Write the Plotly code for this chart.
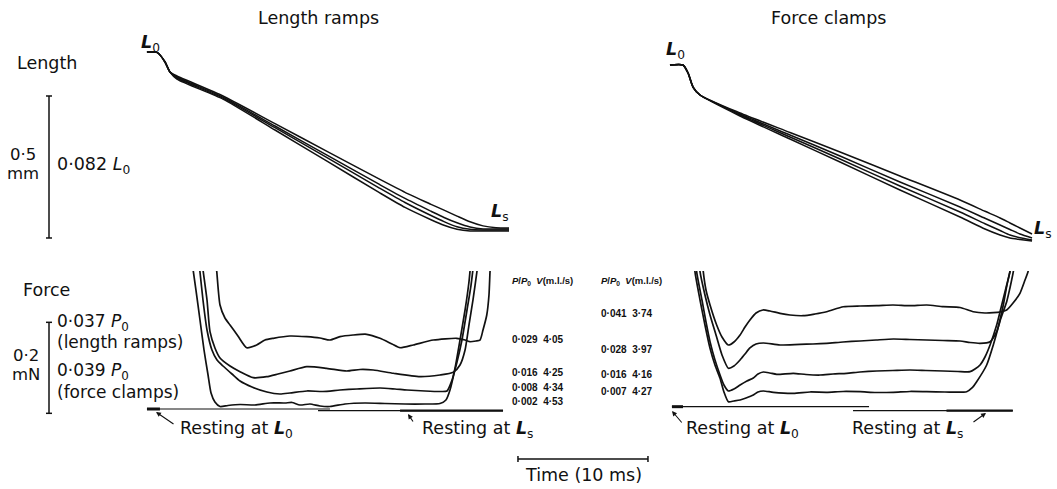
import plotly.graph_objects as go

W, H = 1057, 489

# ---------------- DATA ----------------
# Length traces, length ramps (time in ms, length change in mm from L0)
t_len_ramp = [0.15, 0.77, 1.0, 1.54, 1.92, 2.46, 6, 10, 14, 18, 20, 22, 23, 24, 25, 26, 27, 28]
len_ramp_405 = [0, 0, -0.0035, -0.0352, -0.0704, -0.0845, -0.1549, -0.2525, -0.3496, -0.4468, -0.4940,
                -0.5363, -0.5570, -0.5778, -0.5979, -0.6123, -0.6187, -0.6197]
len_ramp_425 = [0, 0, -0.0035, -0.0352, -0.0704, -0.0880, -0.1588, -0.2606, -0.3630, -0.4655, -0.5155,
                -0.5606, -0.5827, -0.6014, -0.6162, -0.6232, -0.6232, -0.6232]
len_ramp_434 = [0, 0, -0.0035, -0.0352, -0.0704, -0.0915, -0.1623, -0.2665, -0.3722, -0.4782, -0.5299,
                -0.5757, -0.5972, -0.6155, -0.6243, -0.6268, -0.6268, -0.6268]
len_ramp_453 = [0, 0, -0.0035, -0.0352, -0.0704, -0.0951, -0.1658, -0.2746, -0.3845, -0.4944, -0.5472,
                -0.5905, -0.6102, -0.6243, -0.6303, -0.6303, -0.6303, -0.6303]

# Length traces, force clamps
t_len_clamp = [0.23, 1.23, 1.62, 2.0, 2.54, 5.62, 9.46, 13.31, 17.92, 22.54, 24.46, 25.62, 26.38, 27.15, 28.08]
len_clamp_041 = [0, 0, -0.0282, -0.0775, -0.1056, -0.1690, -0.2377, -0.3063, -0.3908, -0.4754, -0.5151,
                 -0.5387, -0.5563, -0.5739, -0.5951]
len_clamp_028 = [0, 0, -0.0282, -0.0775, -0.1056, -0.1725, -0.2465, -0.3204, -0.4120, -0.5000, -0.5398,
                 -0.5634, -0.5792, -0.5951, -0.6092]
len_clamp_016 = [0, 0, -0.0282, -0.0775, -0.1056, -0.1761, -0.2535, -0.3310, -0.4261, -0.5176, -0.5588,
                 -0.5827, -0.5986, -0.6081, -0.6162]
len_clamp_007 = [0, 0, -0.0282, -0.0775, -0.1056, -0.1796, -0.2606, -0.3415, -0.4401, -0.5352, -0.5775,
                 -0.5986, -0.6092, -0.6144, -0.6197]

# Force traces, length ramps (time ms, force mN)
t_fr_002 = [3.54, 3.92, 4.23, 4.54, 4.85, 5.08, 5.38, 5.77, 6.38, 7.31, 8.46, 9.62, 10.77, 11.31, 11.92, 12.69,
            13.46, 14.23, 15.38, 16.92, 18.46, 20.0, 21.54, 22.69, 23.15, 23.46, 23.85, 24.23, 24.62, 24.92, 25.08]
f_fr_002 = [0.3385, 0.2615, 0.1956, 0.1297, 0.0747, 0.0352, 0.0154, 0.0055, 0.0077, 0.0099, 0.0088, 0.0132,
            0.0132, 0.0143, 0.0088, 0.0110, 0.0066, 0.0055, 0.0110, 0.0132, 0.0121, 0.0110, 0.0110, 0.0121,
            0.0198, 0.0418, 0.0901, 0.1516, 0.2176, 0.2791, 0.3275]
t_fr_008 = [4.08, 4.23, 4.46, 4.77, 5.15, 5.54, 6.0, 6.69, 7.31, 8.23, 9.38, 10.38, 11.15, 12.46, 13.69, 15.0,
            16.31, 18.08, 19.23, 20.15, 21.54, 22.69, 23.23, 23.62, 24.0, 24.38, 24.77, 25.08, 25.31]
f_fr_008 = [0.3385, 0.3011, 0.2396, 0.1736, 0.1297, 0.1077, 0.0945, 0.0769, 0.0615, 0.0484, 0.0374, 0.0330,
            0.0352, 0.0396, 0.0385, 0.0418, 0.0440, 0.0462, 0.0440, 0.0418, 0.0396, 0.0385, 0.0396, 0.0637,
            0.1033, 0.1516, 0.2176, 0.2725, 0.3275]
t_fr_016 = [4.31, 4.48, 4.77, 5.0, 5.38, 5.77, 6.54, 7.31, 8.33, 9.36, 10.23, 11.15, 12.44, 13.98, 15.52, 16.54,
            17.56, 19.1, 21.15, 22.69, 23.72, 24.23, 24.62, 24.92, 25.23, 25.54, 25.69]
f_fr_016 = [0.3385, 0.3018, 0.2396, 0.1699, 0.1341, 0.1121, 0.0945, 0.0820, 0.0688, 0.0710, 0.0769, 0.0835,
            0.0930, 0.0895, 0.0835, 0.0868, 0.0857, 0.0785, 0.0710, 0.0747, 0.0807, 0.0967, 0.1297, 0.1846,
            0.2396, 0.3033, 0.3385]
t_fr_029 = [5.38, 5.52, 5.77, 6.15, 6.54, 7.15, 7.82, 8.59, 9.23, 9.87, 11.15, 12.44, 13.46, 14.23, 15.0, 16.0,
            17.05, 18.08, 19.0, 19.62, 20.64, 22.18, 23.98, 24.62, 25.0, 25.46, 25.77, 26.0, 26.29, 26.46, 26.54, 26.62]
f_fr_029 = [0.3385, 0.3018, 0.2286, 0.2000, 0.1846, 0.1604, 0.1347, 0.1407, 0.1516, 0.1554, 0.1604, 0.1589,
            0.1560, 0.1516, 0.1589, 0.1626, 0.1642, 0.1554, 0.1429, 0.1347, 0.1407, 0.1516, 0.1554, 0.1516,
            0.1479, 0.1495, 0.1516, 0.1736, 0.2066, 0.2505, 0.3018, 0.3385]

# Force traces, force clamps
t_fc_007 = [2.08, 2.15, 2.54, 2.92, 3.31, 3.69, 4.08, 4.38, 4.72, 5.15, 5.62, 6.08, 6.64, 7.0, 7.41, 8.18, 9.72,
            11.0, 12.28, 13.54, 14.85, 16.08, 17.41, 18.69, 19.98, 21.38, 23.05, 23.46, 23.82, 24.59, 25.1, 25.46,
            25.87, 26.15, 26.38, 26.54]
f_fc_007 = [0.3385, 0.3018, 0.2396, 0.1846, 0.1334, 0.0967, 0.0675, 0.0374, 0.0160, 0.0176, 0.0198, 0.0242,
            0.0308, 0.0374, 0.0396, 0.0367, 0.0345, 0.0374, 0.0367, 0.0385, 0.0380, 0.0363, 0.0367, 0.0385,
            0.0380, 0.0374, 0.0380, 0.0462, 0.0600, 0.0967, 0.1407, 0.1780, 0.2286, 0.2725, 0.3018, 0.3385]
t_fc_016 = [2.23, 2.28, 2.69, 3.0, 3.31, 3.69, 4.08, 4.38, 4.72, 5.15, 5.62, 6.15, 6.64, 7.0, 7.41, 7.92, 8.44,
            9.72, 10.69, 11.77, 12.77, 13.82, 14.85, 16.13, 17.38, 18.69, 19.92, 21.25, 22.38, 23.31, 23.69, 24.08,
            24.46, 24.85, 25.36, 25.69, 26.13, 26.38, 26.54]
f_fc_016 = [0.3385, 0.3018, 0.2396, 0.1912, 0.1479, 0.1077, 0.0747, 0.0527, 0.0396, 0.0440, 0.0527, 0.0615,
            0.0681, 0.0769, 0.0813, 0.0791, 0.0763, 0.0785, 0.0758, 0.0747, 0.0769, 0.0785, 0.0813, 0.0835,
            0.0846, 0.0857, 0.0846, 0.0835, 0.0824, 0.0820, 0.0879, 0.0967, 0.1143, 0.1407, 0.1846, 0.2220,
            0.2725, 0.3018, 0.3319]
t_fc_028 = [2.46, 2.54, 2.92, 3.31, 3.77, 4.23, 4.72, 5.15, 5.62, 6.0, 6.38, 6.85, 7.41, 8.69, 10.23, 11.23,
            12.28, 13.54, 14.85, 16.08, 17.41, 18.69, 19.98, 21.23, 22.54, 23.31, 24.08, 24.85, 25.36, 25.69,
            26.13, 26.38, 26.64, 26.77]
f_fc_028 = [0.3385, 0.3018, 0.2505, 0.2066, 0.1626, 0.1187, 0.0895, 0.0945, 0.1077, 0.1209, 0.1341, 0.1429,
            0.1451, 0.1407, 0.1422, 0.1429, 0.1444, 0.1473, 0.1495, 0.1516, 0.1538, 0.1527, 0.1516, 0.1505,
            0.1495, 0.1462, 0.1444, 0.1479, 0.1699, 0.2000, 0.2358, 0.2659, 0.3018, 0.3275]
t_fc_041 = [2.69, 2.79, 3.0, 3.31, 3.82, 4.23, 4.72, 5.15, 5.62, 6.0, 6.38, 6.85, 7.38, 7.92, 8.69, 9.46, 10.48,
            11.38, 12.28, 13.56, 14.85, 16.13, 17.38, 18.69, 19.98, 21.25, 22.54, 23.56, 24.46, 25.1, 25.62,
            26.13, 26.62, 27.15, 27.54, 27.77, 27.92]
f_fc_041 = [0.3385, 0.3018, 0.2615, 0.2286, 0.1846, 0.1582, 0.1407, 0.1473, 0.1626, 0.1802, 0.1956, 0.2110,
            0.2176, 0.2154, 0.2103, 0.2066, 0.2051, 0.2088, 0.2138, 0.2248, 0.2264, 0.2270, 0.2286, 0.2270,
            0.2286, 0.2248, 0.2231, 0.2138, 0.2110, 0.2116, 0.2132, 0.2176, 0.2330, 0.2543, 0.2835, 0.3018, 0.3231]

# Resting force baselines (time ms, force mN)
t_rest_ramp_L0 = [0.15, 14.23]
f_rest_ramp_L0 = [0.0, 0.0]
t_rest_ramp_L0_thick = [0.15, 1.15]
t_rest_ramp_Ls = [13.31, 27.54]
f_rest_ramp_Ls = [-0.0037, -0.0037]
t_rest_ramp_Ls_thick = [19.62, 27.54]
t_rest_clamp_L0 = [0.38, 15.54]
f_rest_clamp_L0 = [0.0051, 0.0051]
t_rest_clamp_L0_thick = [0.38, 1.23]
t_rest_clamp_Ls = [14.31, 26.6]
f_rest_clamp_Ls = [-0.0037, -0.0037]
t_rest_clamp_Ls_thick = [21.5, 26.6]

# Table values
ramp_table_p = ["0·029", "0·016", "0·008", "0·002"]
ramp_table_v = ["4·05", "4·25", "4·34", "4·53"]
clamp_table_p = ["0·041", "0·028", "0·016", "0·007"]
clamp_table_v = ["3·74", "3·97", "4·16", "4·27"]

# Scale bars (data units)
length_bar_mm = 0.5
force_bar_mN = 0.2
time_bar_ms = 10

# ---------------- FIGURE ----------------
def px(x):
    return x / W


def py(y):
    return 1 - y / H


BLACK = "#111111"
FONT = "DejaVu Sans, Liberation Sans, sans-serif"
TFONT = "Liberation Sans, Arial, sans-serif"
FS = 17.5

fig = go.Figure()


def add_line(t, v, xa, ya, width=1.5, shape="spline"):
    fig.add_trace(go.Scatter(x=t, y=v, mode="lines", xaxis=xa, yaxis=ya,
                             line=dict(color=BLACK, width=width, shape=shape, smoothing=0.6),
                             hoverinfo="skip", showlegend=False))


for v in [len_ramp_405, len_ramp_425, len_ramp_434, len_ramp_453]:
    add_line(t_len_ramp, v, "x", "y", width=1.5)
for v in [len_clamp_041, len_clamp_028, len_clamp_016, len_clamp_007]:
    add_line(t_len_clamp, v, "x2", "y2", width=1.5)

for t, f in [(t_fr_002, f_fr_002), (t_fr_008, f_fr_008), (t_fr_016, f_fr_016), (t_fr_029, f_fr_029)]:
    add_line(t, f, "x", "y3", width=1.7)
for t, f in [(t_fc_007, f_fc_007), (t_fc_016, f_fc_016), (t_fc_028, f_fc_028), (t_fc_041, f_fc_041)]:
    add_line(t, f, "x2", "y3", width=1.7)

add_line(t_rest_ramp_L0, f_rest_ramp_L0, "x", "y3", width=1.2, shape="linear")
add_line(t_rest_ramp_L0_thick, f_rest_ramp_L0, "x", "y3", width=3, shape="linear")
add_line(t_rest_ramp_Ls, f_rest_ramp_Ls, "x", "y3", width=1.2, shape="linear")
add_line(t_rest_ramp_Ls_thick, f_rest_ramp_Ls, "x", "y3", width=2.2, shape="linear")
add_line(t_rest_clamp_L0, f_rest_clamp_L0, "x2", "y3", width=1.2, shape="linear")
add_line(t_rest_clamp_L0_thick, f_rest_clamp_L0, "x2", "y3", width=3, shape="linear")
add_line(t_rest_clamp_Ls, f_rest_clamp_Ls, "x2", "y3", width=1.2, shape="linear")
add_line(t_rest_clamp_Ls_thick, f_rest_clamp_Ls, "x2", "y3", width=2.2, shape="linear")

hidden = dict(visible=False, fixedrange=True, showgrid=False, zeroline=False)
fig.update_layout(
    width=W, height=H, margin=dict(l=0, r=0, t=0, b=0),
    paper_bgcolor="white", plot_bgcolor="rgba(0,0,0,0)", showlegend=False,
    xaxis=dict(hidden, domain=[0, 1], range=[-145 / 13, (W - 145) / 13], anchor="y"),
    xaxis2=dict(hidden, domain=[0, 1], range=[-667 / 13, (W - 667) / 13], anchor="y2"),
    yaxis=dict(hidden, domain=[0, 1], range=[(52 - H) / 284, 52 / 284], anchor="x"),
    yaxis2=dict(hidden, domain=[0, 1], range=[(65 - H) / 284, 65 / 284], anchor="x2"),
    yaxis3=dict(hidden, domain=[1 - 430 / H, 1 - 271 / H], range=[(409 - 430) / 455, (409 - 271) / 455], anchor="x"),
)

# Scale bars
bar = dict(color=BLACK, width=1.5)
L_top = -0.1549
fig.add_shape(type="line", xref="paper", yref="y", x0=px(49), x1=px(49), y0=L_top, y1=L_top - length_bar_mm, line=bar)
for yy in [L_top, L_top - length_bar_mm]:
    fig.add_shape(type="line", xref="paper", yref="y", x0=px(46), x1=px(52), y0=yy, y1=yy, line=bar)
F_bot = -0.0095
fig.add_shape(type="line", xref="paper", yref="y3", x0=px(49), x1=px(49), y0=F_bot, y1=F_bot + force_bar_mN, line=bar)
for yy in [F_bot, F_bot + force_bar_mN]:
    fig.add_shape(type="line", xref="paper", yref="y3", x0=px(46), x1=px(52), y0=yy, y1=yy, line=bar)
T0 = 28.69
fig.add_shape(type="line", xref="x", yref="paper", x0=T0, x1=T0 + time_bar_ms, y0=py(459), y1=py(459), line=bar)
for xx in [T0, T0 + time_bar_ms]:
    fig.add_shape(type="line", xref="x", yref="paper", x0=xx, x1=xx, y0=py(456), y1=py(462), line=bar)


def label(x, y, text, size=FS, xanchor="center", yanchor="middle", family=FONT):
    fig.add_annotation(x=px(x), y=py(y), xref="paper", yref="paper", text=text, showarrow=False,
                       xanchor=xanchor, yanchor=yanchor,
                       font=dict(family=family, size=size, color=BLACK))


L0 = "<b><i>L</i></b><sub>0</sub>"
Ls = "<b><i>L</i></b><sub>s</sub>"
P0 = "<i>P</i><sub>0</sub>"

label(318, 18, "Length ramps")
label(828, 18, "Force clamps")
label(47, 63, "Length")
label(46, 290, "Force")
label(150, 44, L0)
label(675, 51, L0)
label(500, 212, Ls)
label(1043, 229, Ls)

label(23, 154, "0·5", size=16.5)
label(23, 173, "mm", size=16.5)
label(55, 165, "0·082 <i>L</i><sub>0</sub>", xanchor="left")

label(26, 355, "0·2", size=16.5)
label(26, 374, "mN", size=16.5)
label(55, 322, "0·037 " + P0, size=17, xanchor="left")
label(55, 342, "(length ramps)", size=17, xanchor="left")
label(55, 371, "0·039 " + P0, size=17, xanchor="left")
label(55, 392, "(force clamps)", size=17, xanchor="left")

label(178, 429, "Resting at " + L0, xanchor="left")
label(420, 429, "Resting at " + Ls, xanchor="left")
label(684, 429, "Resting at " + L0, xanchor="left")
label(850, 429, "Resting at " + Ls, xanchor="left")
label(583, 475, "Time (10 ms)")

hdr = "<b><i>P</i>/<i>P</i><sub>0</sub>\u00a0\u00a0<i>V</i>(m.l./s)</b>"
label(510, 281, hdr, size=9.5, xanchor="left", family=TFONT)
label(599, 281, hdr, size=9.5, xanchor="left", family=TFONT)
for p, v, y in zip(ramp_table_p, ramp_table_v, [339, 372, 387.5, 401]):
    label(510, y, "<b>" + p + "\u00a0\u00a0" + v + "</b>", size=10, xanchor="left", family=TFONT)
for p, v, y in zip(clamp_table_p, clamp_table_v, [313, 349, 374, 391]):
    label(599, y, "<b>" + p + "\u00a0\u00a0" + v + "</b>", size=10, xanchor="left", family=TFONT)


def arrow(hx, hy, tx, ty):
    fig.add_annotation(x=px(hx), y=py(hy), xref="paper", yref="paper", text="", showarrow=True,
                       ax=tx - hx, ay=ty - hy, arrowhead=2, arrowsize=0.9, arrowwidth=1.1,
                       arrowcolor=BLACK)


arrow(156, 412, 175, 425)
arrow(408, 414, 414, 423)
arrow(672, 411, 683, 424)
arrow(986, 413, 972, 423)

fig.write_html("out.html", config={"displayModeBar": False, "staticPlot": True},
               post_script="document.body.style.margin='0';")
